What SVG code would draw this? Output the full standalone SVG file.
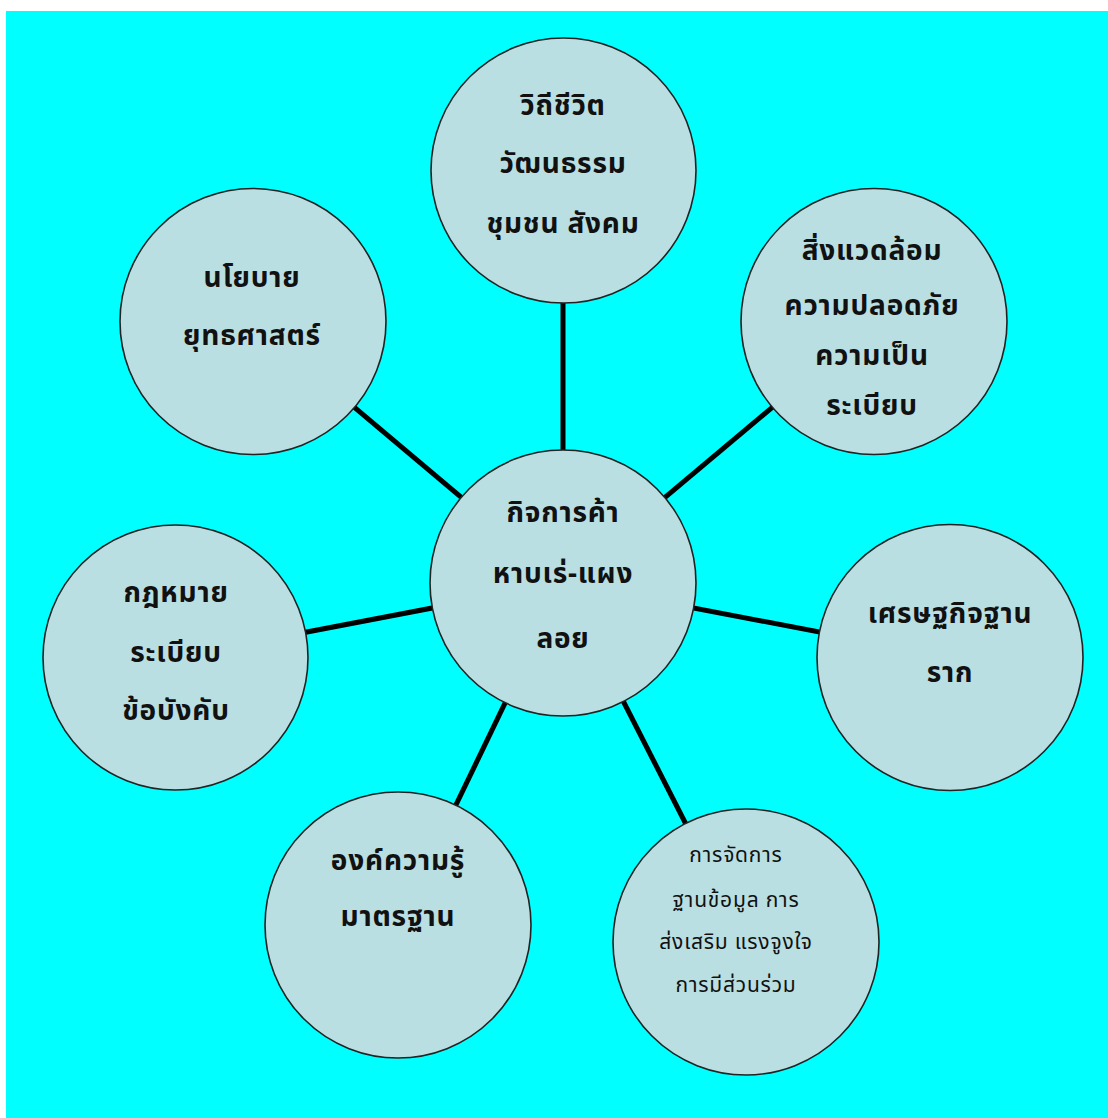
<svg xmlns="http://www.w3.org/2000/svg" width="1108" height="1118" viewBox="0 0 1108 1118">
<style>
.node circle{fill:#B9DFE3;stroke:#222;stroke-width:1.6}
.t{font-family:"Noto Sans Thai","Noto Sans","DejaVu Sans",sans-serif;font-size:28px;font-weight:bold;fill:#111;text-anchor:middle;letter-spacing:0.8px}
.s{font-family:"Noto Sans Thai","Noto Sans","DejaVu Sans",sans-serif;font-size:21px;fill:#111;text-anchor:middle;letter-spacing:0.8px}
.edge{stroke:#000;stroke-width:5;fill:none}
</style>
<rect x="0" y="0" width="1108" height="1118" fill="#fff"/>
<rect x="6" y="11" width="1102" height="1107" fill="#00FFFF"/>
<g id="connectors">
<line class="edge" x1="563" y1="583" x2="563" y2="170"/>
<line class="edge" x1="563" y1="583" x2="253" y2="322"/>
<line class="edge" x1="563" y1="583" x2="874" y2="322"/>
<line class="edge" x1="563" y1="583" x2="176" y2="657"/>
<line class="edge" x1="563" y1="583" x2="950" y2="657"/>
<line class="edge" x1="563" y1="583" x2="398" y2="925"/>
<line class="edge" x1="563" y1="583" x2="746" y2="942"/>
</g>
<g id="n-top" class="node">
<circle cx="563.5" cy="170.5" r="132.5"/>
<text class="t" x="563" y="115">วิถีชีวิต</text>
<text class="t" x="563" y="173">วัฒนธรรม</text>
<text class="t" x="563" y="233">ชุมชน สังคม</text>
</g>
<g id="n-topleft" class="node">
<circle cx="253" cy="321.5" r="133"/>
<text class="t" x="252" y="287">นโยบาย</text>
<text class="t" x="252" y="345">ยุทธศาสตร์</text>
</g>
<g id="n-topright" class="node">
<circle cx="874" cy="321.5" r="133"/>
<text class="t" x="872" y="260">สิ่งแวดล้อม</text>
<text class="t" x="872" y="315">ความปลอดภัย</text>
<text class="t" x="872" y="365">ความเป็น</text>
<text class="t" x="872" y="415">ระเบียบ</text>
</g>
<g id="n-left" class="node">
<circle cx="175.5" cy="657.5" r="132.5"/>
<text class="t" x="176" y="602">กฎหมาย</text>
<text class="t" x="176" y="662">ระเบียบ</text>
<text class="t" x="176" y="720">ข้อบังคับ</text>
</g>
<g id="n-right" class="node">
<circle cx="950" cy="657.5" r="133"/>
<text class="t" x="950" y="623">เศรษฐกิจฐาน</text>
<text class="t" x="950" y="682">ราก</text>
</g>
<g id="n-bottomleft" class="node">
<circle cx="398" cy="925" r="133"/>
<text class="t" x="398" y="870">องค์ความรู้</text>
<text class="t" x="398" y="926">มาตรฐาน</text>
</g>
<g id="n-bottomright" class="node">
<circle cx="746" cy="942" r="133"/>
<text class="s" x="736" y="862">การจัดการ</text>
<text class="s" x="736" y="907">ฐานข้อมูล การ</text>
<text class="s" x="736" y="949">ส่งเสริม แรงจูงใจ</text>
<text class="s" x="736" y="992">การมีส่วนร่วม</text>
</g>
<g id="n-center" class="node">
<circle cx="563" cy="583" r="133"/>
<text class="t" x="563" y="522">กิจการค้า</text>
<text class="t" x="563" y="583">หาบเร่-แผง</text>
<text class="t" x="563" y="648">ลอย</text>
</g>
</svg>
